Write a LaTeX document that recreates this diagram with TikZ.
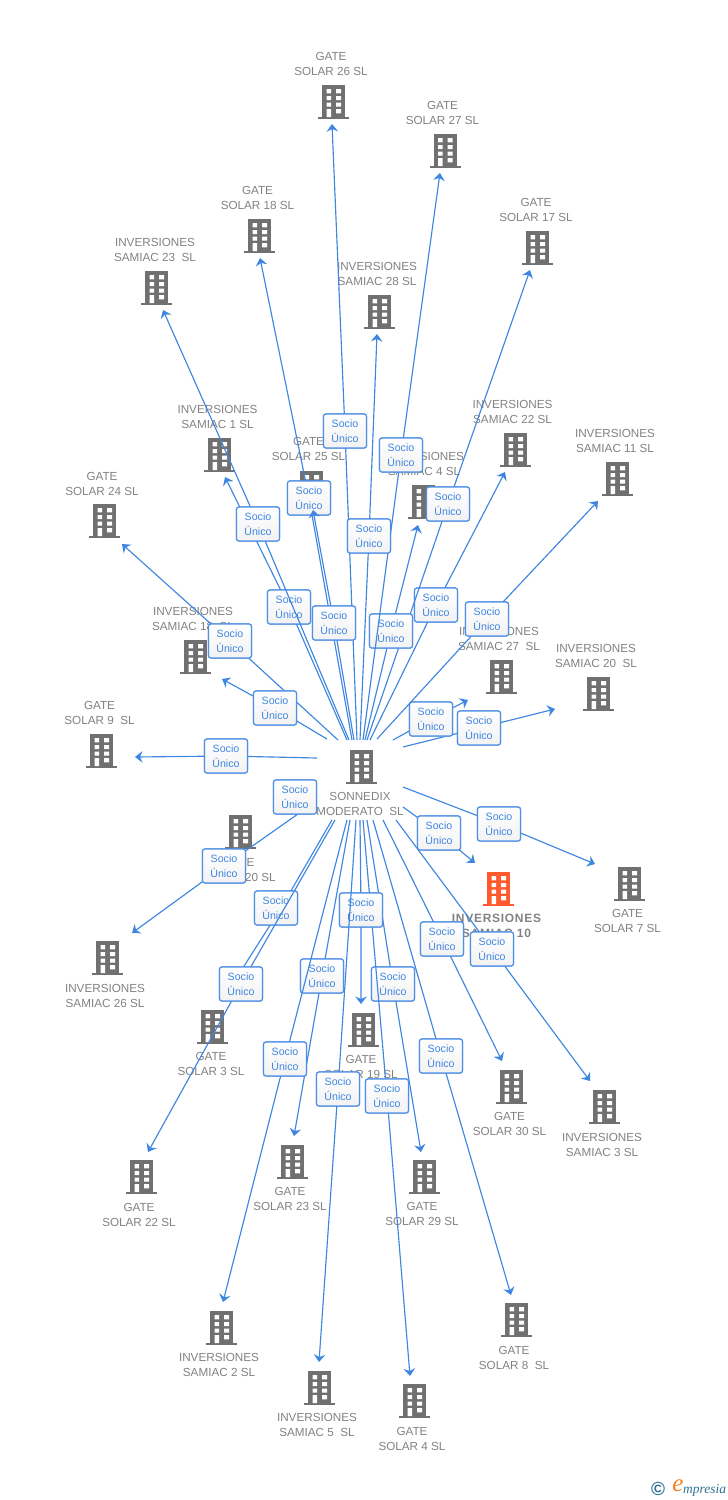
\documentclass[tikz,border=0pt]{standalone}
\usepackage{fontspec}
\setmainfont{Liberation Sans}
\newfontfamily\logofont{Liberation Serif}
\usetikzlibrary{arrows.meta}
\definecolor{linkblue}{HTML}{3F86E0}
\definecolor{boxblue}{HTML}{4F90E4}
\definecolor{txtblue}{HTML}{3F86E0}
\definecolor{labgray}{HTML}{828282}
\definecolor{icongray}{HTML}{707070}
\definecolor{iconorange}{HTML}{FF5A2B}
\definecolor{logoteal}{HTML}{2F7391}
\definecolor{logoorange}{HTML}{F58220}
\tikzset{
  lbl/.style={inner sep=0pt,align=center,text=labgray,font=\fontsize{11.7}{15}\selectfont},
  lblb/.style={inner sep=0pt,align=center,text=labgray,font=\fontsize{12}{15}\bfseries\addfontfeatures{LetterSpace=6}\selectfont},
  sociobox/.style={draw=boxblue,line width=1.2pt,rounded corners=2.5pt,top color=white,bottom color=black!5,
    minimum width=43pt,minimum height=34pt,inner sep=0pt,align=center,text=txtblue,font=\fontsize{10.6}{15}\selectfont},
  linkline/.style={draw=linkblue,line width=1.15pt,line join=round,-{Stealth[length=7.5pt,width=11.5pt,inset=2.5pt]}},
  anchorpt/.style={minimum size=0pt,inner sep=0pt}
}
% building icon centred at (#1,#2): name #3, colour #4
\newcommand{\bldg}[4]{%
  \node[anchorpt] (#3) at (#1,#2) {};
  \begin{scope}[shift={(#1,#2)}]
    \fill[#4] (-11.5,-17) rectangle (11.5,15.5);
    \fill[#4] (-15.5,15) rectangle (15.5,17.3);
    \fill[white] (-6.8,-13) rectangle (-2.5,-8.7) (2.5,-13) rectangle (7.5,-8.7)
                 (-6.8,-6) rectangle (-2.5,-2) (2.5,-6) rectangle (7.5,-2)
                 (-6.8,0.7) rectangle (-2.5,4.7) (2.5,0.7) rectangle (7.5,4.7)
                 (-6.8,7) rectangle (-2.5,15) (2.5,7) rectangle (7.5,11.3);
  \end{scope}}
% link: id, start, box centre, end, optional via point
\newcommand{\lnk}[5][]{%
  \coordinate (s#2) at (#3);
  \coordinate (e#2) at (#5);
  \node[sociobox,anchor=center] (b#2) at (#4) {};
  \def\tmpvia{#1}%
  \ifx\tmpvia\empty
    \draw[linkline] (s#2) -- (b#2.center) -- (e#2);
  \else
    \coordinate (v#2) at (#1);
    \draw[linkline] (s#2) -- (v#2) -- (e#2);
  \fi
  \node[sociobox,anchor=center] at (b#2) {Socio\\Único};}
\begin{document}
\begin{tikzpicture}[x=1pt,y=-1pt]
\useasboundingbox (0,0) rectangle (728,1500);
% companies
\bldg{361.5}{767}{cC}{icongray}
\node[lbl] (tC) at (360,803.5) {SONNEDIX\\MODERATO~~SL};
\bldg{333.5}{102}{c26}{icongray}  \node[lbl] (t26) at (331,63.5) {GATE\\SOLAR 26 SL};
\bldg{445}{151}{c27}{icongray}  \node[lbl] (t27) at (442.5,112.5) {GATE\\SOLAR 27 SL};
\bldg{537.5}{248}{c17}{icongray}  \node[lbl] (t17) at (536,209.5) {GATE\\SOLAR 17 SL};
\bldg{259.5}{236}{c18}{icongray}  \node[lbl] (t18) at (257.5,197.5) {GATE\\SOLAR 18 SL};
\bldg{156.5}{288}{i23}{icongray}  \node[lbl] (ti23) at (155,249.5) {INVERSIONES\\SAMIAC 23~~SL};
\bldg{379.5}{312}{i28}{icongray}  \node[lbl] (ti28) at (377,273.5) {INVERSIONES\\SAMIAC 28 SL};
\bldg{219.5}{455}{i1}{icongray}   \node[lbl] (ti1) at (217.5,416.5) {INVERSIONES\\SAMIAC 1 SL};
\bldg{311.5}{488}{c25}{icongray}  \node[lbl] (t25) at (308.5,448.5) {GATE\\SOLAR 25 SL};
\bldg{423.5}{502}{i4}{icongray}   \node[lbl] (ti4) at (424,463.5) {INVERSIONES\\SAMIAC 4 SL};
\bldg{515.5}{450}{i22}{icongray}  \node[lbl] (ti22) at (512.5,411.5) {INVERSIONES\\SAMIAC 22 SL};
\bldg{617.5}{479}{i11}{icongray}  \node[lbl] (ti11) at (615,440.5) {INVERSIONES\\SAMIAC 11 SL};
\bldg{104.5}{521}{c24}{icongray}  \node[lbl] (t24) at (102,483.5) {GATE\\SOLAR 24 SL};
\bldg{195.5}{657}{i18}{icongray}  \node[lbl] (ti18) at (193,618.5) {INVERSIONES\\SAMIAC 18~~SL};
\bldg{101.5}{751}{c9}{icongray}   \node[lbl] (t9) at (99.5,712.5) {GATE\\SOLAR 9~~SL};
\bldg{501.5}{677}{i27}{icongray}  \node[lbl] (ti27) at (499,638.5) {INVERSIONES\\SAMIAC 27~~SL};
\bldg{598.5}{694}{i20}{icongray}  \node[lbl] (ti20) at (596,655.5) {INVERSIONES\\SAMIAC 20~~SL};
\bldg{629.5}{884}{c7}{icongray}   \node[lbl] (t7) at (627.5,920.5) {GATE\\SOLAR 7 SL};
\bldg{498.5}{889}{i10}{iconorange} \node[lblb] (ti10) at (496.5,925.5) {INVERSIONES\\SAMIAC 10};
\bldg{604.5}{1107}{i3}{icongray}  \node[lbl] (ti3) at (602,1144.5) {INVERSIONES\\SAMIAC 3 SL};
\bldg{511.5}{1087}{c30}{icongray} \node[lbl] (t30) at (509.5,1123.5) {GATE\\SOLAR 30 SL};
\bldg{516.5}{1320}{c8}{icongray}  \node[lbl] (t8) at (514,1357.5) {GATE\\SOLAR 8~~SL};
\bldg{424.5}{1177}{c29}{icongray} \node[lbl] (t29) at (422,1213.5) {GATE\\SOLAR 29 SL};
\bldg{414.5}{1401}{c4}{icongray}  \node[lbl] (t4) at (412,1438.5) {GATE\\SOLAR 4 SL};
\bldg{363.5}{1030}{c19}{icongray} \node[lbl] (t19) at (361,1066.5) {GATE\\SOLAR 19 SL};
\bldg{319.5}{1388}{i5}{icongray}  \node[lbl] (ti5) at (317,1424.5) {INVERSIONES\\SAMIAC 5~~SL};
\bldg{292.5}{1162}{c23}{icongray} \node[lbl] (t23) at (290,1198.5) {GATE\\SOLAR 23 SL};
\bldg{221.5}{1328}{i2}{icongray}  \node[lbl] (ti2) at (219,1364.5) {INVERSIONES\\SAMIAC 2 SL};
\bldg{212.5}{1027}{c3}{icongray}  \node[lbl] (t3) at (211,1063.5) {GATE\\SOLAR 3 SL};
\bldg{141.5}{1177}{c22}{icongray} \node[lbl] (t22) at (139,1214.5) {GATE\\SOLAR 22 SL};
\bldg{107.5}{958}{i26}{icongray}  \node[lbl] (ti26) at (105,995.5) {INVERSIONES\\SAMIAC 26 SL};
\bldg{240.5}{832}{c20}{icongray}  \node[lbl] (t20) at (239,869.5) {GATE\\SOLAR 20 SL};
% links (drawing order matters: later lines pass over earlier boxes)
\lnk{a26}{315,802}{224,866}{132,933}
\lnk{a20}{310,790}{295,797}{281,806}
\lnk[281,908]{a3}{332,820}{276,908}{225,996}
\lnk{a22}{335,820}{241,984}{148,1152}
\lnk{a23}{350,820}{322,976}{294,1136}
\lnk{a2}{347,820}{285,1059}{223,1302}
\lnk{a29}{367,820}{393,984}{421,1152}
\lnk{a4}{363,820}{387,1096}{410,1376}
\lnk{a19}{360,820}{361,910}{361,1004}
\lnk{a5}{356,820}{338,1089}{319,1362}
\lnk{a8}{373,820}{441,1056}{511,1295}
\lnk{a30}{383,820}{442,939}{502,1061}
\lnk{a3i}{396,820}{492,949}{590,1081}
\lnk{a10}{403,807}{439,833}{475,863}
\lnk{a7}{403,787}{499,824}{595,864}
\lnk{a20i}{403,747}{479,728}{555,709}
\lnk{a27i}{393,740}{431,719}{468,700}
\lnk{a11}{377,739}{487,619}{598,501}
\lnk{a22i}{370,740}{436,605}{505,472}
\lnk{a17}{367,740}{448,504}{530,270}
\lnk{a4i}{365,740}{391,631}{418,525}
\lnk{a27}{363,740}{401,455}{440,173}
\lnk{a26t}{357,740}{345,431}{332,124}
\lnk{a28}{360,740}{369,536}{377,334}
\lnk{a18}{352,740}{309,498}{260,258}
\lnk{a25}{354,740}{334,623}{313,510}
\lnk{a1}{347,740}{289,607}{225,477}
\lnk{a23i}{349,740}{258,524}{163,310}
\lnk{a24}{338,740}{230,641}{122,544}
\lnk{a18i}{327,739}{275,708}{222,679}
\lnk{a9}{317,758}{226,756}{135,757}
% logo
\node[inner sep=0pt,text=logoteal,font=\bfseries\fontsize{19}{19}\selectfont] (lc) at (658,1488.5) {©};
\node[inner sep=0pt,text=logoorange,font=\logofont\itshape\fontsize{25}{25}\selectfont] (le) at (678,1486) {e};
\node[inner sep=0pt,text=logoteal,anchor=base west,font=\logofont\itshape\fontsize{13.5}{14}\selectfont] (lm) at (683,1493) {mpresia};
\end{tikzpicture}
\end{document}
